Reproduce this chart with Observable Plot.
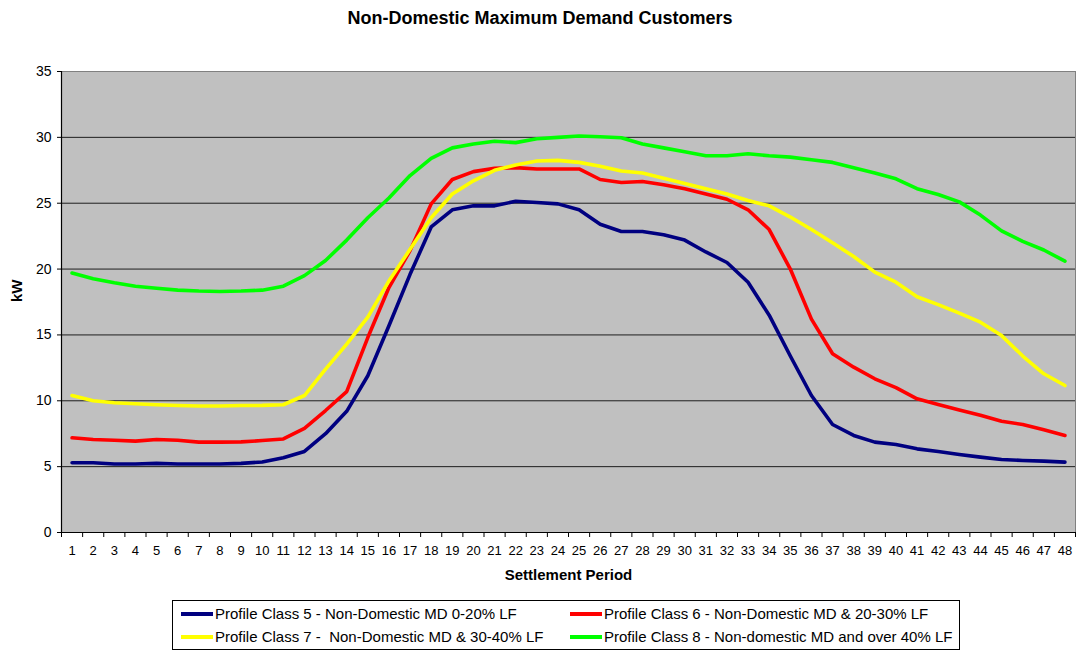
<!DOCTYPE html>
<html>
<head>
<meta charset="utf-8">
<script src="https://cdn.jsdelivr.net/npm/d3@7"></script>
<script src="https://cdn.jsdelivr.net/npm/@observablehq/plot@0.6"></script>
<style>
  body { margin: 0; background: #fff; font-family: "Liberation Sans", Arial, sans-serif; }
  #wrap { position: relative; width: 1080px; height: 653px; }
  #title { position: absolute; left: 0; top: 0; width: 1080px; height: 36px; line-height: 36px; text-align: center; font-weight: bold; font-size: 18px; color: #000; }
  #chart { position: absolute; left: 0; top: 36px; }
  #legend { position: absolute; left: 172px; top: 600px; width: 786px; height: 48px; border: 1px solid #000; background: #fff; font-size: 15px; }
  .item { position: absolute; height: 20px; line-height: 20px; white-space: pre; color: #000; }
  .sw { display: inline-block; width: 32px; height: 4px; vertical-align: middle; margin-right: 2px; position: relative; top: -1px; }
</style>
</head>
<body>
<div id="wrap">
  <div id="title">Non-Domestic Maximum Demand Customers</div>
  <div id="chart"></div>
  <div id="legend"></div>
</div>
<script>
const periods = [1,2,3,4,5,6,7,8,9,10,11,12,13,14,15,16,17,18,19,20,21,22,23,24,25,26,27,28,29,30,31,32,33,34,35,36,37,38,39,40,41,42,43,44,45,46,47,48];
const pc5 = [5.3,5.3,5.2,5.2,5.25,5.2,5.2,5.2,5.25,5.35,5.67,6.15,7.5,9.2,11.9,15.7,19.6,23.2,24.5,24.8,24.8,25.15,25.05,24.95,24.5,23.4,22.85,22.85,22.6,22.2,21.3,20.5,19.0,16.5,13.4,10.4,8.2,7.37,6.86,6.68,6.35,6.15,5.92,5.72,5.54,5.47,5.42,5.34];
const pc6 = [7.19,7.06,7.0,6.94,7.06,7.0,6.86,6.86,6.88,6.98,7.1,7.9,9.26,10.7,14.8,18.6,21.4,24.95,26.8,27.4,27.65,27.7,27.6,27.6,27.6,26.8,26.57,26.65,26.4,26.1,25.7,25.3,24.5,23.0,20.0,16.2,13.57,12.55,11.67,11.0,10.15,9.72,9.3,8.9,8.45,8.2,7.8,7.37];
const pc7 = [10.4,10.0,9.85,9.77,9.7,9.64,9.6,9.6,9.64,9.65,9.7,10.4,12.4,14.3,16.35,19.1,21.5,23.9,25.7,26.7,27.5,27.9,28.2,28.25,28.1,27.8,27.45,27.3,26.9,26.5,26.1,25.7,25.2,24.8,23.95,23.0,22.0,20.95,19.77,19.0,17.9,17.3,16.65,15.97,14.95,13.4,12.05,11.16];
const pc8 = [19.7,19.26,18.96,18.7,18.55,18.4,18.33,18.3,18.33,18.4,18.7,19.5,20.65,22.2,23.9,25.4,27.1,28.4,29.2,29.5,29.7,29.6,29.9,30.0,30.1,30.05,29.97,29.5,29.2,28.9,28.6,28.6,28.75,28.6,28.5,28.3,28.1,27.7,27.3,26.85,26.1,25.66,25.1,24.1,22.9,22.1,21.45,20.6];
const yTicks = [0,5,10,15,20,25,30,35];
const seriesNames = [
  "Profile Class 5 - Non-Domestic MD 0-20% LF",
  "Profile Class 6 - Non-Domestic MD & 20-30% LF",
  "Profile Class 7 -  Non-Domestic MD & 30-40% LF",
  "Profile Class 8 - Non-domestic MD and over 40% LF"
];
const seriesColors = ["#000080", "#ff0000", "#ffff00", "#00ff00"];
const seriesValues = [pc5, pc6, pc7, pc8];

const rows = [];
seriesValues.forEach((vals, si) => {
  vals.forEach((v, i) => rows.push({series: seriesNames[si], period: periods[i], kW: v}));
});
const boundaries = periods.map(p => p - 0.5).concat([periods[periods.length - 1] + 0.5]);

const chart = Plot.plot({
  width: 1080,
  height: 562,
  marginTop: 35,
  marginLeft: 61,
  marginRight: 5,
  marginBottom: 66,
  style: {fontFamily: "Liberation Sans, Arial, sans-serif", fontSize: "13px", background: "transparent", color: "#000"},
  x: {domain: [0.5, 48.5], label: null},
  y: {domain: [0, 35], label: null},
  color: {domain: seriesNames, range: seriesColors},
  marks: [
    Plot.frame({fill: "#c0c0c0", stroke: "#808080"}),
    Plot.gridY(yTicks.filter(t => t > 0 && t < 35), {stroke: "#000", strokeOpacity: 0.85, strokeWidth: 1}),
    Plot.ruleX([0.5], {stroke: "#000", strokeWidth: 1.2}),
    Plot.ruleY([0], {stroke: "#000", strokeWidth: 1.2}),
    Plot.axisY({ticks: yTicks, tickSize: 4, tickPadding: 6, fontSize: 14, label: null}),
    Plot.axisX({ticks: boundaries, tickSize: 5, tickFormat: () => "", label: null}),
    Plot.axisX({ticks: periods, tickSize: 0, tickPadding: 13, fontSize: 13, label: null}),
    Plot.line(rows, {x: "period", y: "kW", z: "series", stroke: "series", strokeWidth: 3.6, strokeLinejoin: "round", strokeLinecap: "round"}),
    Plot.text(["kW"], {frameAnchor: "left", dx: -44, rotate: -90, fontWeight: "bold", fontSize: 15}),
    Plot.text(["Settlement Period"], {frameAnchor: "bottom", dy: 47, fontWeight: "bold", fontSize: 15})
  ]
});
document.getElementById("chart").appendChild(chart);

const legend = document.getElementById("legend");
const pos = [[8, 3], [397, 3], [8, 26], [397, 26]];
seriesNames.forEach((name, i) => {
  const d = document.createElement("div");
  d.className = "item";
  d.style.left = pos[i][0] + "px";
  d.style.top = pos[i][1] + "px";
  const s = document.createElement("span");
  s.className = "sw";
  s.style.background = seriesColors[i];
  d.appendChild(s);
  d.appendChild(document.createTextNode(name));
  legend.appendChild(d);
});
</script>
</body>
</html>
